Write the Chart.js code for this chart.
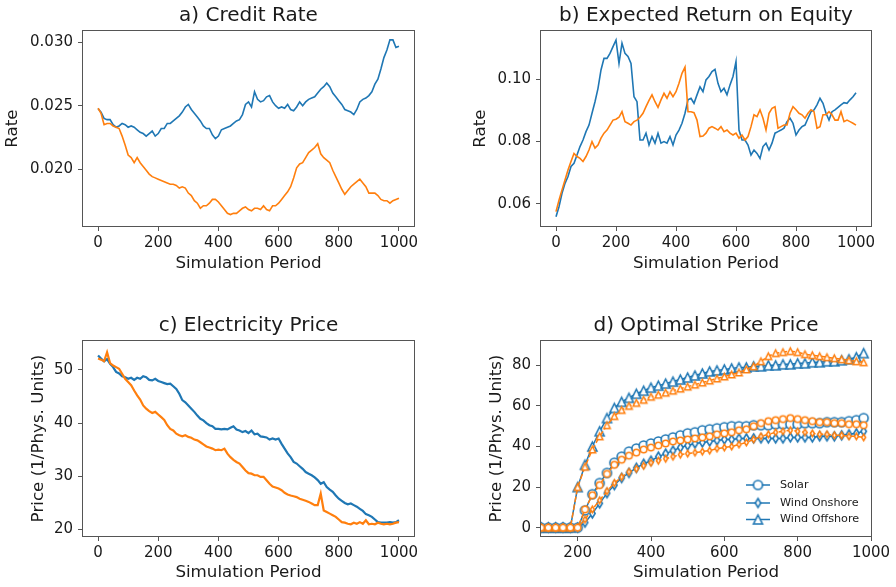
<!DOCTYPE html>
<html>
<head>
<meta charset="utf-8">
<script src="https://cdn.jsdelivr.net/npm/chart.js@4.4.0/dist/chart.umd.min.js"></script>
<style>
  html, body { margin: 0; padding: 0; background: #fff; }
  #wrap { position: relative; width: 896px; height: 587px; }
  #wrap canvas { position: absolute; left: 0; top: 0; }
</style>
</head>
<body>
<div id="wrap">
  <canvas id="credit" width="896" height="587"></canvas>
  <canvas id="roe" width="896" height="587"></canvas>
  <canvas id="price" width="896" height="587"></canvas>
  <canvas id="strike" width="896" height="587"></canvas>
</div>
<script>
// simulation periods for panels a-c (every 10th period)
const periods = [
  0, 10, 20, 30, 40, 50, 60, 70, 80, 90,
  100, 110, 120, 130, 140, 150, 160, 170, 180, 190,
  200, 210, 220, 230, 240, 250, 260, 270, 280, 290,
  300, 310, 320, 330, 340, 350, 360, 370, 380, 390,
  400, 410, 420, 430, 440, 450, 460, 470, 480, 490,
  500, 510, 520, 530, 540, 550, 560, 570, 580, 590,
  600, 610, 620, 630, 640, 650, 660, 670, 680, 690,
  700, 710, 720, 730, 740, 750, 760, 770, 780, 790,
  800, 810, 820, 830, 840, 850, 860, 870, 880, 890,
  900, 910, 920, 930, 940, 950, 960, 970, 980, 990,
  1000
];

// a) credit rate
const creditBlue = [
  0.02478, 0.02448, 0.0240, 0.0239, 0.0239, 0.0235, 0.0233, 0.0234, 0.0236, 0.0235,
  0.0233, 0.0234, 0.0233, 0.0231, 0.0229, 0.0228, 0.0226, 0.0228, 0.0230, 0.0226,
  0.0228, 0.0232, 0.0232, 0.0236, 0.0236, 0.0238, 0.0240, 0.0242, 0.0245, 0.0249,
  0.0251, 0.0247, 0.0244, 0.0241, 0.0238, 0.0234, 0.0232, 0.0232, 0.0227, 0.0224,
  0.0226, 0.0231, 0.0232, 0.0233, 0.0234, 0.0236, 0.0238, 0.0239, 0.0243, 0.0251,
  0.0253, 0.0249, 0.0261, 0.0255, 0.0253, 0.0254, 0.0257, 0.0258, 0.0253, 0.0250,
  0.0248, 0.0249, 0.0248, 0.0251, 0.0247, 0.0246, 0.0249, 0.0253, 0.0250, 0.0253,
  0.0255, 0.0256, 0.0257, 0.0260, 0.0263, 0.0265, 0.0268, 0.0265, 0.0260, 0.0257,
  0.0254, 0.0251, 0.0247, 0.0246, 0.0245, 0.0243, 0.0247, 0.0253, 0.0255, 0.0256,
  0.0258, 0.0261, 0.0267, 0.0271, 0.0279, 0.0288, 0.0294, 0.0302, 0.0302, 0.0296,
  0.0297
];
const creditOrange = [
  0.0248, 0.0244, 0.0235, 0.0236, 0.0236, 0.0234, 0.0233, 0.0232, 0.0226, 0.0219,
  0.0211, 0.0209, 0.0205, 0.0209, 0.0205, 0.0202, 0.0199, 0.0196, 0.0194, 0.0193,
  0.0192, 0.0191, 0.0190, 0.0189, 0.0188, 0.0188, 0.0187, 0.0185, 0.0186, 0.0185,
  0.0181, 0.0179, 0.0175, 0.0173, 0.0169, 0.0171, 0.0171, 0.0173, 0.0176, 0.0176,
  0.0174, 0.0171, 0.0168, 0.0165, 0.0164, 0.0165, 0.0165, 0.0167, 0.0169, 0.0170,
  0.0168, 0.0167, 0.0169, 0.0169, 0.0168, 0.0171, 0.0168, 0.0167, 0.0171, 0.0171,
  0.0173, 0.0176, 0.0179, 0.0182, 0.0186, 0.0193, 0.0201, 0.0204, 0.0205, 0.0209,
  0.0213, 0.0215, 0.0217, 0.0220, 0.0212, 0.0209, 0.0207, 0.0205, 0.0199, 0.0194,
  0.0189, 0.0184, 0.0180, 0.0183, 0.0186, 0.0188, 0.0190, 0.0192, 0.0189, 0.0186,
  0.0181, 0.0181, 0.0181, 0.0179, 0.0176, 0.0175, 0.0175, 0.0173, 0.0175, 0.0176,
  0.0177
];

// b) expected return on equity
const roeBlue = [
  0.0559, 0.0591, 0.0634, 0.0666, 0.0688, 0.0720, 0.0730, 0.0757, 0.0784, 0.0805,
  0.0832, 0.0853, 0.0891, 0.0928, 0.0971, 0.1030, 0.1067, 0.1067, 0.1083, 0.1105,
  0.1126, 0.1051, 0.1116, 0.1083, 0.1073, 0.1051, 0.0944, 0.0928, 0.0805, 0.0805,
  0.0827, 0.0789, 0.0816, 0.0795, 0.0827, 0.0795, 0.0800, 0.0795, 0.0816, 0.0789,
  0.0821, 0.0837, 0.0859, 0.0891, 0.0934, 0.0939, 0.0923, 0.0950, 0.0976, 0.0960,
  0.0998, 0.1009, 0.1025, 0.1032, 0.0987, 0.0960, 0.0971, 0.0950, 0.0982, 0.1009,
  0.1057, 0.0837, 0.0805, 0.0805, 0.0789, 0.0757, 0.0773, 0.0762, 0.0746, 0.0784,
  0.0795, 0.0773, 0.0795, 0.0827, 0.0832, 0.0837, 0.0843, 0.0864, 0.0875, 0.0859,
  0.0821, 0.0837, 0.0848, 0.0853, 0.0875, 0.0896, 0.0902, 0.0918, 0.0939, 0.0923,
  0.0891, 0.0869, 0.0896, 0.0902, 0.0910, 0.0918, 0.0925, 0.0923, 0.0934, 0.0944,
  0.0957
];
const roeOrange = [
  0.0575, 0.0612, 0.0645, 0.0677, 0.0709, 0.0736, 0.0762, 0.0752, 0.0746, 0.0736,
  0.0752, 0.0773, 0.0800, 0.0779, 0.0789, 0.0811, 0.0827, 0.0837, 0.0853, 0.0869,
  0.0872, 0.0878, 0.0896, 0.0864, 0.0859, 0.0853, 0.0864, 0.0869, 0.0878, 0.0891,
  0.0912, 0.0932, 0.0950, 0.0928, 0.0910, 0.0934, 0.0955, 0.0939, 0.0960, 0.0944,
  0.0960, 0.0987, 0.1019, 0.1039, 0.0896, 0.0896, 0.0893, 0.0869, 0.0816, 0.0818,
  0.0827, 0.0843, 0.0848, 0.0843, 0.0837, 0.0848, 0.0832, 0.0837, 0.0827, 0.0821,
  0.0827, 0.0811, 0.0821, 0.0805, 0.0816, 0.0848, 0.0886, 0.0880, 0.0902, 0.0875,
  0.0837, 0.0891, 0.0907, 0.0912, 0.0843, 0.0848, 0.0853, 0.0853, 0.0891, 0.0912,
  0.0902, 0.0891, 0.0886, 0.0875, 0.0891, 0.0902, 0.0896, 0.0843, 0.0848, 0.0886,
  0.0886, 0.0896, 0.0886, 0.0869, 0.0869, 0.0896, 0.0864, 0.0869, 0.0864, 0.0859,
  0.0853
];

// c) electricity price
const priceBlue = [
  52.7, 52.1, 51.6, 52.0, 51.1, 50.5, 49.6, 49.3, 48.8, 48.6,
  48.3, 48.5, 48.1, 48.5, 48.3, 48.8, 48.6, 48.1, 48.0, 48.3,
  47.9, 47.7, 47.5, 47.3, 47.4, 46.9, 46.4, 45.5, 44.3, 43.9,
  43.3, 42.7, 42.1, 41.4, 40.8, 40.5, 40.0, 39.6, 39.4, 38.9,
  38.9, 38.8, 38.9, 38.8, 39.1, 39.4, 38.8, 38.6, 38.3, 38.5,
  38.1, 38.6, 37.9, 38.0, 37.5, 37.4, 37.3, 36.9, 37.1, 36.9,
  37.1, 36.1, 35.2, 34.3, 33.6, 32.7, 32.4, 31.9, 31.4, 30.8,
  30.5, 30.2, 29.8, 29.3, 28.6, 28.9, 28.0, 27.5, 27.1, 26.4,
  25.8, 25.4, 25.0, 24.75, 24.9, 24.6, 24.3, 23.9, 23.5, 22.9,
  22.7, 22.4, 21.9, 21.4, 21.3, 21.3, 21.3, 21.4, 21.3, 21.4,
  21.75
];
const priceOrange = [
  52.1, 51.9, 51.6, 53.3, 51.25, 50.8, 50.5, 50.2, 49.25, 48.3,
  47.7, 47.1, 46.1, 45.2, 44.4, 43.3, 42.7, 42.25, 41.9, 42.1,
  41.6, 41.1, 40.6, 39.6, 38.9, 38.6, 38.0, 37.7, 37.5, 37.7,
  37.4, 37.25, 36.9, 36.75, 36.4, 36.0, 35.6, 35.4, 35.2, 34.9,
  35.0, 34.9, 35.2, 34.25, 33.6, 33.1, 32.7, 32.4, 31.75, 31.1,
  30.6, 30.5, 30.2, 30.2, 29.9, 29.9, 29.25, 28.6, 28.1, 27.9,
  27.7, 27.4, 26.9, 26.6, 26.4, 26.25, 26.1, 25.8, 25.6, 25.4,
  25.2, 24.9, 24.6, 24.6, 26.75, 23.6, 23.3, 23.0, 22.7, 22.4,
  21.9, 21.4, 21.3, 21.1, 21.0, 21.3, 21.1, 21.4, 21.1, 21.75,
  21.0, 21.1, 21.0, 21.3, 21.1, 21.0, 21.1, 21.0, 21.1, 21.3,
  21.4
];

// d) optimal strike price, one marker every 20 periods
const strikePeriods = [
  100, 120, 140, 160, 180, 200, 220, 240, 260, 280,
  300, 320, 340, 360, 380, 400, 420, 440, 460, 480,
  500, 520, 540, 560, 580, 600, 620, 640, 660, 680,
  700, 720, 740, 760, 780, 800, 820, 840, 860, 880,
  900, 920, 940, 960, 980
];
const solarBlue = [
  0, 0, 0, 0, 0, 0, 8.5, 16.5, 22, 27,
  32, 35, 37.5, 39, 40.5, 41.5, 42.5, 43.5, 44.5, 45.5,
  46.5, 47, 48, 48.5, 49, 49.5, 50, 50, 50, 50.5,
  50.5, 50.5, 51, 51, 51, 51, 51.5, 51.5, 51.5, 52,
  52, 52, 52.5, 53, 54
];
const onshoreBlue = [
  0, 0, 0, 0, 0, 0, 2.5, 7, 12, 17,
  21, 24.5, 27, 29.5, 31.5, 33, 35, 36.5, 38, 39.5,
  40.5, 41.5, 42, 42.5, 43, 43.5, 43.5, 44, 44, 44,
  44, 44, 44, 44, 44.5, 44.5, 44.5, 44.5, 45, 45,
  45, 45.5, 46, 46.5, 47.5
];
const offshoreBlue = [
  0, 0, 0, 0, 0, 20, 31, 40, 47.5, 54,
  59, 62, 64, 66, 67.5, 69, 70, 71, 72, 73,
  74, 75, 76, 77, 77.5, 78, 78.5, 79, 79, 79.5,
  79.5, 80, 80, 80.5, 80.5, 81, 81, 81.5, 81.5, 82,
  82, 82.5, 83, 84, 86
];
const solarOrange = [
  0, 0, 0, 0, 0, 0, 9, 16, 21, 26.5,
  31, 33.5, 35.5, 37, 38.5, 39.5, 40.5, 41.5, 42.5, 43,
  43.5, 44, 44.5, 45, 46, 46.5, 47, 48, 48.5, 50,
  51.5, 52.5, 53, 53.5, 54, 53.5, 53, 52.5, 52, 52,
  51.5, 51.5, 51, 51, 50.5
];
const onshoreOrange = [
  0, 0, 0, 0, 0, 0, 4, 9, 13.5, 18,
  22, 25, 27.5, 29, 30.5, 32, 33, 34, 35, 36,
  36.5, 37, 37.5, 38, 39, 39.5, 40, 41, 42, 43.5,
  45, 46, 47, 47.5, 48, 47.5, 47, 46.5, 46, 46,
  45.5, 45.5, 45, 45, 44.5
];
const offshoreOrange = [
  0, 0, 0, 0, 0, 20, 30, 38.5, 45, 50.5,
  55, 58, 60, 61.5, 63, 64.5, 65.5, 66.5, 67.5, 68.5,
  69.5, 70.5, 71.5, 72.5, 73.5, 74.5, 75.5, 76.5, 78, 79.5,
  82, 84.5, 86, 86.5, 87, 86.5, 85.5, 85, 84.5, 84,
  83.5, 83, 82.5, 82, 81.5
];
const techNames = ['Solar', 'Wind Onshore', 'Wind Offshore'];

const INK = '#1a1a1a';
const SPINE = '#555555';
const BLUE = '#1f77b4';
const ORANGE = '#ff7f0e';
const TICK_SIZE = 15;
const LABEL_SIZE = 16.7;

Chart.defaults.font.family = '"DejaVu Sans", sans-serif';
Chart.defaults.color = INK;

function toPoints(xs, ys) {
  return xs.map((x, i) => ({ x: x, y: ys[i] }));
}

// box around the plot like matplotlib's spines
const frame = {
  id: 'frame',
  afterDraw(chart) {
    const { ctx, chartArea: a } = chart;
    ctx.save();
    ctx.strokeStyle = SPINE;
    ctx.lineWidth = 1;
    ctx.strokeRect(Math.round(a.left) - 0.5, Math.round(a.top) - 0.5,
      Math.round(a.right - a.left) + 1, Math.round(a.bottom - a.top) + 1);
    ctx.restore();
  }
};

// title centred over the axes, not the canvas
const panelTitle = {
  id: 'panelTitle',
  afterDraw(chart, args, opts) {
    const { ctx, chartArea: a } = chart;
    ctx.save();
    ctx.font = '20px "DejaVu Sans"';
    ctx.fillStyle = INK;
    ctx.textAlign = 'center';
    ctx.textBaseline = 'middle';
    ctx.fillText(opts.text, (a.left + a.right) / 2, a.top - 15.5);
    ctx.restore();
  }
};

// marker images, sized like matplotlib markers
function makeMarker(shape, size, color, lw) {
  const pad = Math.ceil(lw) + 1;
  const c = document.createElement('canvas');
  c.width = Math.ceil(size) + pad * 2;
  c.height = Math.ceil(size) + pad * 2;
  const g = c.getContext('2d');
  const cx = c.width / 2, cy = c.height / 2, h = size / 2;
  g.beginPath();
  if (shape === 'circle') {
    g.arc(cx, cy, h, 0, Math.PI * 2);
  } else if (shape === 'diamond') {
    g.moveTo(cx, cy - h);
    g.lineTo(cx + h * 0.6, cy);
    g.lineTo(cx, cy + h);
    g.lineTo(cx - h * 0.6, cy);
  } else {
    g.moveTo(cx, cy - h);
    g.lineTo(cx + h, cy + h);
    g.lineTo(cx - h, cy + h);
  }
  g.closePath();
  g.fillStyle = '#ffffff';
  g.fill();
  g.strokeStyle = color;
  g.lineWidth = lw;
  g.stroke();
  return c;
}

function axes(box, xr, yr, yTitle, yDigits, yStep, xStep) {
  const tickGrid = { drawOnChartArea: false, tickLength: 5, color: SPINE };
  return {
    x: {
      type: 'linear', min: xr[0], max: xr[1],
      border: { display: false },
      grid: tickGrid,
      ticks: { stepSize: xStep, includeBounds: false, padding: 3, maxRotation: 0, color: INK,
        font: { size: TICK_SIZE }, callback: (v) => String(v) },
      title: { display: true, text: 'Simulation Period', color: INK, font: { size: LABEL_SIZE }, padding: 0 },
      afterFit: (s) => { s.height = box.h; }
    },
    y: {
      type: 'linear', min: yr[0], max: yr[1],
      border: { display: false },
      grid: tickGrid,
      ticks: { stepSize: yStep, includeBounds: false, padding: 5, color: INK, font: { size: TICK_SIZE },
        callback: (v) => v.toFixed(yDigits) },
      title: { display: true, text: yTitle, color: INK, font: { size: LABEL_SIZE }, padding: 0 },
      afterFit: (s) => { s.width = box.w; }
    }
  };
}

function layoutFor(box) {
  return { padding: { left: box.l - box.w, top: box.t, right: 896 - box.r, bottom: 587 - box.b - box.h } };
}

function lineSet(data, color, width, order) {
  return { data: data, borderColor: color, borderWidth: width, pointRadius: 0, tension: 0, order: order };
}

function seriesChart(id, box, title, blue, orange, xr, yr, yTitle, yDigits, yStep, width) {
  return new Chart(document.getElementById(id), {
    type: 'line',
    data: {
      datasets: [
        lineSet(toPoints(periods, blue), BLUE, width, 1),
        lineSet(toPoints(periods, orange), ORANGE, width, 0)
      ]
    },
    options: {
      responsive: false, animation: false, events: [],
      layout: layoutFor(box),
      plugins: { legend: { display: false }, tooltip: { enabled: false }, panelTitle: { text: title } },
      scales: axes(box, xr, yr, yTitle, yDigits, yStep, 200)
    },
    plugins: [frame, panelTitle]
  });
}

seriesChart('credit', { l: 83, r: 414, t: 31, b: 226, w: 80, h: 48 }, 'a) Credit Rate',
  creditBlue, creditOrange, [-50, 1050], [0.0155, 0.0309], 'Rate', 3, 0.005, 1.6);
seriesChart('roe', { l: 541, r: 871, t: 31, b: 226, w: 70, h: 48 }, 'b) Expected Return on Equity',
  roeBlue, roeOrange, [-50, 1050], [0.0529, 0.1155], 'Rate', 2, 0.02, 1.6);
seriesChart('price', { l: 83, r: 414, t: 341, b: 536, w: 54, h: 47 }, 'c) Electricity Price',
  priceBlue, priceOrange, [-50, 1050], [18.8, 55.4], 'Price (1/Phys. Units)', 0, 10, 2.2);

// d) strike price with markers and a frameless legend
const shapes = ['circle', 'diamond', 'triangle'];
const blueMarks = shapes.map((s) => makeMarker(s, 9, BLUE, 1.6));
const orangeMarks = shapes.map((s) => makeMarker(s, 6.5, ORANGE, 1.5));

function markerSet(ys, color, mark, dash, order) {
  return {
    data: toPoints(strikePeriods, ys), borderColor: color, borderWidth: 1.5, borderDash: dash,
    tension: 0, pointStyle: mark, pointRadius: 4, order: order
  };
}

const strikeLegend = {
  id: 'strikeLegend',
  afterDraw(chart) {
    const { ctx, chartArea: a } = chart;
    const rowsY = [a.bottom - 51, a.bottom - 33, a.bottom - 16.5];
    ctx.save();
    ctx.font = '11.2px "DejaVu Sans"';
    ctx.textBaseline = 'middle';
    ctx.fillStyle = INK;
    techNames.forEach((name, i) => {
      const y = rowsY[i];
      ctx.strokeStyle = BLUE;
      ctx.lineWidth = 1.5;
      ctx.beginPath();
      ctx.moveTo(a.right - 125, y);
      ctx.lineTo(a.right - 101, y);
      ctx.stroke();
      const m = blueMarks[i];
      ctx.drawImage(m, a.right - 113 - m.width / 2, y - m.height / 2);
      ctx.fillText(name, a.right - 91, y);
    });
    ctx.restore();
  }
};

const strikeBox = { l: 541, r: 871, t: 341, b: 536, w: 54, h: 47 };
new Chart(document.getElementById('strike'), {
  type: 'line',
  data: {
    datasets: [
      markerSet(solarBlue, BLUE, blueMarks[0], [], 1),
      markerSet(onshoreBlue, BLUE, blueMarks[1], [], 1),
      markerSet(offshoreBlue, BLUE, blueMarks[2], [], 1),
      markerSet(solarOrange, ORANGE, orangeMarks[0], [5.5, 2.4], 0),
      markerSet(onshoreOrange, ORANGE, orangeMarks[1], [5.5, 2.4], 0),
      markerSet(offshoreOrange, ORANGE, orangeMarks[2], [5.5, 2.4], 0)
    ]
  },
  options: {
    responsive: false, animation: false, events: [],
    layout: layoutFor(strikeBox),
    plugins: { legend: { display: false }, tooltip: { enabled: false }, panelTitle: { text: 'd) Optimal Strike Price' } },
    scales: axes(strikeBox, [100, 1000], [-4.1, 92], 'Price (1/Phys. Units)', 0, 20, 200)
  },
  plugins: [frame, panelTitle, strikeLegend]
});
</script>
</body>
</html>
